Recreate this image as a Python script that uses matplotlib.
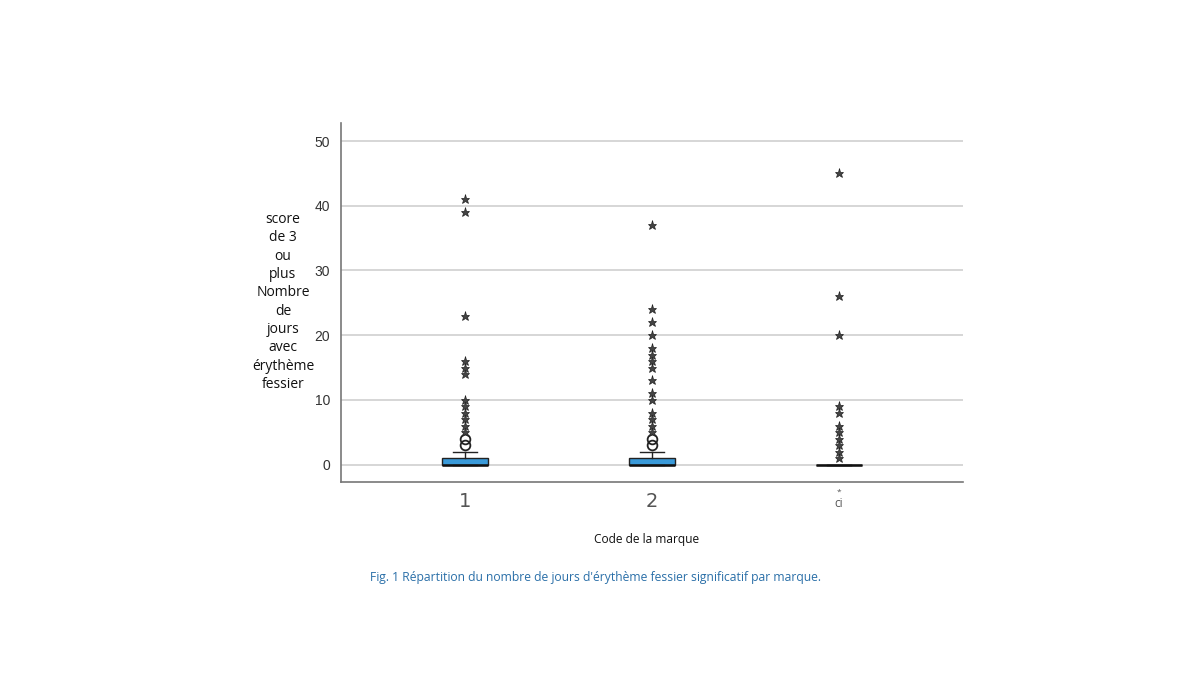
import matplotlib.pyplot as plt
import numpy as np

# Box statistics per brand code
groups = [1, 2, 3]
tick_labels = ["1", "2", ""]
q1 = [0, 0, 0]
med = [0, 0, 0]
q3 = [1, 1, 0]
whislo = [0, 0, 0]
whishi = [2, 2, 0]

# outliers (circles) and extremes (stars)
outliers = [[3, 4], [3, 4], []]
extremes = [
    [5, 6, 7, 8, 9, 10, 14, 15, 16, 23, 39, 41],
    [5, 6, 7, 8, 10, 11, 13, 15, 16, 17, 18, 20, 22, 24, 37],
    [1, 2, 3, 4, 5, 6, 8, 9, 20, 26, 45],
]

yticks = [0, 10, 20, 30, 40, 50]

fig = plt.figure(figsize=(12, 6.75), dpi=100)
ax = fig.add_axes([0.2842, 0.2859, 0.5183, 0.5319])

stats = []
for i in range(len(groups)):
    stats.append(dict(med=med[i], q1=q1[i], q3=q3[i], whislo=whislo[i],
                      whishi=whishi[i], fliers=outliers[i]))

ax.bxp(stats, positions=groups, widths=0.25, patch_artist=True,
       showfliers=True, manage_ticks=False,
       boxprops=dict(facecolor="#3a9ad9", edgecolor="#222222", linewidth=1.0),
       medianprops=dict(color="#111111", linewidth=1.8),
       whiskerprops=dict(color="#222222", linewidth=1.0),
       capprops=dict(color="#222222", linewidth=1.0),
       flierprops=dict(marker="o", markerfacecolor="none", markeredgecolor="#222222",
                       markersize=7, markeredgewidth=1.3))

for i, g in enumerate(groups):
    ax.plot([g] * len(extremes[i]), extremes[i], linestyle="none", marker="*",
            markerfacecolor="#444444", markeredgecolor="#222222",
            markeredgewidth=0.5, markersize=6.5, zorder=4)

ax.set_xlim(0.337, 3.663)
ax.set_ylim(-2.7, 52.8)
ax.set_yticks(yticks)
ax.set_xticks(groups)
ax.set_xticklabels(tick_labels, fontsize=14, color="#555555", family="DejaVu Sans")
ax.tick_params(axis="y", length=0, pad=8, labelsize=10, labelcolor="#333333")
ax.tick_params(axis="x", length=0, pad=7)
for lab in ax.get_yticklabels():
    lab.set_family("Liberation Sans")
ax.yaxis.grid(True, color="#d0d0d0", linewidth=1.2)
ax.set_axisbelow(True)
for s in ["top", "right"]:
    ax.spines[s].set_visible(False)
for s in ["left", "bottom"]:
    ax.spines[s].set_color("#777777")
    ax.spines[s].set_linewidth(1.2)

# odd tick label under third group
ax.text(3, -4.3, "*", ha="center", va="center", fontsize=6, color="#555555",
        family="Open Sans")
ax.text(3, -6.0, "ci", ha="center", va="center", fontsize=8.5, color="#555555",
        family="Open Sans")

fig.text(283 / 1200, 1 - 302 / 675,
         "score\nde 3\nou\nplus\nNombre\nde\njours\navec\nérythème\nfessier",
         ha="center", va="center", fontsize=10, family="Open Sans",
         color="#111111", linespacing=1.3)
fig.text(647 / 1200, 1 - 540 / 675, "Code de la marque", ha="center", va="center",
         fontsize=8.6, family="Open Sans", color="#111111")
fig.text(596 / 1200, 1 - 577 / 675,
         "Fig. 1 Répartition du nombre de jours d'érythème fessier significatif par marque.",
         ha="center", va="center", fontsize=8.7, family="Open Sans", color="#2a6fa8")

fig.savefig("out.png", dpi=100)
